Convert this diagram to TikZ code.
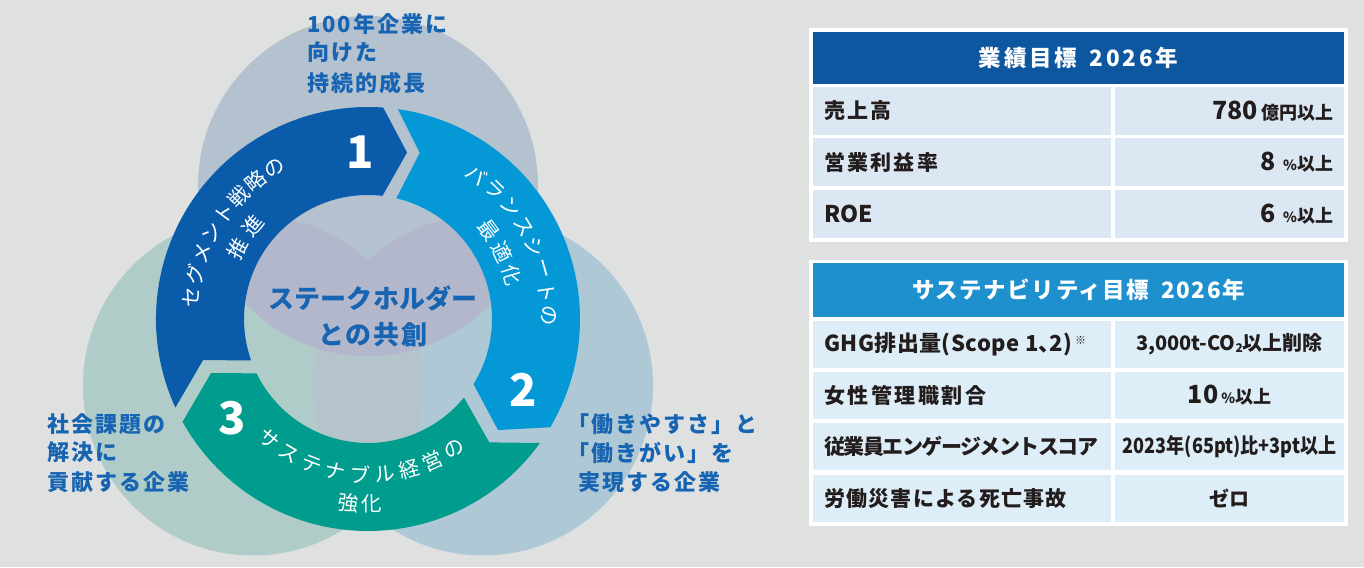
\documentclass[tikz,border=0pt]{standalone}
\usepackage{fontspec}
\usepackage{graphicx}
\setmainfont{Noto Sans CJK JP}
\usetikzlibrary{calc}
\definecolor{bgc}{RGB}{223,225,225}
\definecolor{ctopc}{RGB}{180,194,208}
\definecolor{cleftc}{RGB}{175,204,200}
\definecolor{crightc}{RGB}{175,200,213}
\definecolor{clavc}{RGB}{178,183,203}
\definecolor{clrc}{RGB}{181,196,202}
\definecolor{segA}{RGB}{10,91,170}
\definecolor{segB}{RGB}{5,152,215}
\definecolor{segC}{RGB}{0,156,142}
\definecolor{lblue}{RGB}{22,100,178}
\definecolor{thA}{RGB}{13,87,160}
\definecolor{thB}{RGB}{30,144,206}
\definecolor{tcA}{RGB}{219,232,244}
\definecolor{tcB}{RGB}{222,238,248}
\definecolor{tdark}{RGB}{35,28,28}
\begin{document}
\begin{tikzpicture}[x=1pt,y=1pt,
  ringtxt/.style={text=white,inner sep=0,font=\fontsize{20.5}{21}\selectfont},
  lbl/.style={text=lblue,anchor=west,inner sep=0,font=\fontsize{22}{26}\selectfont\bfseries\addfontfeatures{LetterSpace=9}},
  ctr/.style={text=lblue,inner sep=0},
  num/.style={text=white,inner sep=0,font=\fontsize{45}{45}\selectfont\bfseries},
  hcell/.style={inner sep=0,text=white,minimum width=531pt,font=\fontsize{22.5}{24}\selectfont\bfseries},
  cellA/.style={fill=tcA,inner sep=0,minimum height=48pt},
  cellB/.style={fill=tcB,inner sep=0,minimum height=47pt},
  tlab/.style={text=tdark,anchor=west,inner sep=0,font=\fontsize{21}{24}\selectfont\bfseries},
  tval/.style={text=tdark,inner sep=0,font=\fontsize{20}{24}\selectfont\bfseries}
]
\useasboundingbox (0,0) rectangle (1364,567);
\fill[bgc] (0,0) rectangle (1364,567);

% background circles
\coordinate (C) at (368,248);
\coordinate (ct) at (368,381);
\coordinate (cl) at (253,181.5);
\coordinate (cr) at (483,181.5);
\fill[ctopc] (ct) circle[radius=170pt];
\fill[cleftc] (cl) circle[radius=170pt];
\fill[crightc] (cr) circle[radius=170pt];
\begin{scope}
  \clip (cl) circle[radius=170pt];
  \fill[clrc] (cr) circle[radius=170pt];
\end{scope}
\begin{scope}
  \clip (ct) circle[radius=170pt];
  \fill[clavc] (cl) circle[radius=170pt];
  \fill[clavc] (cr) circle[radius=170pt];
\end{scope}

% ring segments
\begin{scope}[shift={(368,248)}]
  \fill[segA] (204.7:212pt) arc[start angle=204.7,end angle=85.9,radius=212pt] -- (76.8:171pt) -- (83.3:124pt) arc[start angle=83.3,end angle=199.5,radius=124pt] -- (194:170pt) -- cycle;
  \fill[segB] (81.9:212pt) arc[start angle=81.9,end angle=-30.7,radius=212pt] -- (-40.5:171pt) -- (-31.7:124pt) arc[start angle=-31.7,end angle=76.8,radius=124pt] -- (72.7:174pt) -- cycle;
  \fill[segC] (-35.8:212pt) arc[start angle=-35.8,end angle=-151,radius=212pt] -- (-161:166pt) -- (-154:124pt) arc[start angle=-154,end angle=-39.3,radius=124pt] -- (-45.5:173pt) -- cycle;

  % ring texts
  \foreach \ch [count=\i from 0] in {セ,グ,メ,ン,ト,戦,略,の}{
    \pgfmathsetmacro\ang{173-7.31*\i}
    \node[ringtxt,rotate=\ang-90] (sa\i) at (\ang:178pt) {\ch};}
  \foreach \ch [count=\i from 0] in {推,進}{
    \pgfmathsetmacro\ang{151.5-10.5*\i}
    \node[ringtxt,rotate=\ang-90] (sb\i) at (\ang:148pt) {\ch};}
  \foreach \ch [count=\i from 0] in {バ,ラ,ン,ス,シ,ー,ト,の}{
    \pgfmathsetmacro\ang{52.9-7.39*\i}
    \node[ringtxt,rotate=\ang-90] (sc\i) at (\ang:181pt) {\ch};}
  \foreach \ch [count=\i from 0] in {最,適,化}{
    \pgfmathsetmacro\ang{36.2-9.6*\i}
    \node[ringtxt,rotate=\ang-90] (sd\i) at (\ang:150pt) {\ch};}
  \foreach \ch [count=\i from 0] in {サ,ス,テ,ナ,ブ,ル,経,営,の}{
    \pgfmathsetmacro\ang{230.5+9.15*\i}
    \node[ringtxt,rotate=\ang+90] (se\i) at (\ang:156pt) {\ch};}
  \foreach \ch [count=\i from 0] in {強,化}{
    \pgfmathsetmacro\ang{264-7*\i+14*\i}
    \node[ringtxt,rotate=\ang+90] (sf\i) at (\ang:185pt) {\ch};}
\end{scope}

% numbers
\node[num] (n1) at (360,415) {1};
\node[num] (n2) at (523,177) {2};
\node[num] (n3) at (232,149) {3};

% centre text
\node[ctr,font=\fontsize{26}{28}\selectfont\bfseries\addfontfeatures{LetterSpace=1}] (cen1) at (373,269) {ステークホルダー};
\node[ctr,font=\fontsize{26}{28}\selectfont\bfseries\addfontfeatures{LetterSpace=8}] (cen2) at (373,232) {との共創};

% outer labels
\node[lbl] (lt1) at (307,543) {100年企業に};
\node[lbl] (lt2) at (307,514.5) {向けた};
\node[lbl] (lt3) at (307,484) {持続的成長};
\node[lbl] (ll1) at (47,143) {社会課題の};
\node[lbl] (ll2) at (47,114.5) {解決に};
\node[lbl] (ll3) at (47,85) {貢献する企業};
\node[lbl] (lr1) at (567,143) {「働きやすさ」と};
\node[lbl] (lr2) at (567,114.5) {「働きがい」を};
\node[lbl] (lr3) at (578,85) {実現する企業};

% table 1
\fill[white] (809,325) rectangle (1348,539);
\node[hcell,fill=thA,minimum height=52pt] (h1) at (1078.5,509) {\addfontfeatures{LetterSpace=13}業績目標\hspace{12pt}2026年};
\node[cellA,minimum width=298pt] (a1) at (962,456) {};
\node[cellA,minimum width=229pt] (b1) at (1229.5,456) {};
\node[cellA,minimum width=298pt] (a2) at (962,404.5) {};
\node[cellA,minimum width=229pt] (b2) at (1229.5,404.5) {};
\node[cellA,minimum width=298pt] (a3) at (962,353) {};
\node[cellA,minimum width=229pt] (b3) at (1229.5,353) {};
\node[tlab] (a1t) at ([xshift=11pt]a1.west) {\addfontfeatures{LetterSpace=10}売上高};
\node[tlab] (a2t) at ([xshift=11pt]a2.west) {\addfontfeatures{LetterSpace=11}営業利益率};
\node[tlab,font=\fontsize{23}{24}\selectfont\bfseries] (a3t) at ([xshift=11pt]a3.west) {ROE};
\node[tval,anchor=east] (b1t) at ([xshift=-11pt]b1.east) {{\fontsize{25}{25}\selectfont 780}\,{\fontsize{18}{18}\selectfont 億円以上}};
\node[tval,anchor=east] (b2t) at ([xshift=-11pt]b2.east) {{\fontsize{25}{25}\selectfont 8}\hspace{7pt}{\fontsize{14}{14}\selectfont\%}{\fontsize{18}{18}\selectfont 以上}};
\node[tval,anchor=east] (b3t) at ([xshift=-11pt]b3.east) {{\fontsize{25}{25}\selectfont 6}\hspace{7pt}{\fontsize{14}{14}\selectfont\%}{\fontsize{18}{18}\selectfont 以上}};

% table 2
\fill[white] (809,41) rectangle (1348,307);
\node[hcell,fill=thB,minimum height=54pt] (h2) at (1078.5,277) {\addfontfeatures{LetterSpace=7}サステナビリティ目標\hspace{12pt}2026年};
\node[cellB,minimum width=298pt] (c1) at (962,222.5) {};
\node[cellB,minimum width=229pt] (d1) at (1229.5,222.5) {};
\node[cellB,minimum width=298pt] (c2) at (962,171.5) {};
\node[cellB,minimum width=229pt] (d2) at (1229.5,171.5) {};
\node[cellB,minimum width=298pt] (c3) at (962,120.5) {};
\node[cellB,minimum width=229pt] (d3) at (1229.5,120.5) {};
\node[cellB,minimum width=298pt] (c4) at (962,68.5) {};
\node[cellB,minimum width=229pt] (d4) at (1229.5,68.5) {};
\node[tlab,font=\fontsize{22}{24}\selectfont\bfseries] (c1t) at ([xshift=11pt]c1.west) {\addfontfeatures{LetterSpace=2}GHG排出量(Scope 1\makebox[11pt][l]{、}2)\hspace{3pt}\raisebox{7pt}{\fontsize{11}{11}\selectfont ※}};
\node[tlab] (c2t) at ([xshift=11pt]c2.west) {\addfontfeatures{LetterSpace=12}女性管理職割合};
\node[tlab] (c3t) at ([xshift=11pt]c3.west) {\addfontfeatures{LetterSpace=-7}従業員エンゲージメントスコア};
\node[tlab] (c4t) at ([xshift=11pt]c4.west) {\addfontfeatures{LetterSpace=6}労働災害による死亡事故};
\node[tval] (d1t) at (d1) {3,000t-CO\raisebox{-2pt}{\fontsize{12}{12}\selectfont 2}以上削除};
\node[tval] (d2t) at (d2) {{\fontsize{25}{25}\selectfont 10}\hspace{3pt}{\fontsize{14}{14}\selectfont\%}{\fontsize{18}{18}\selectfont 以上}};
\node[tval] (d3t) at (d3) {\scalebox{0.86}[1]{\fontsize{21}{24}\selectfont 2023年(65pt)比+3pt以上}};
\node[tval] (d4t) at (d4) {ゼロ};
\end{tikzpicture}
\end{document}
